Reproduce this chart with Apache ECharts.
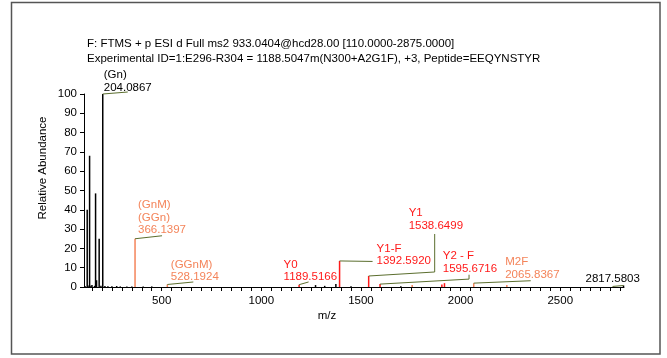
<!DOCTYPE html>
<html><head><meta charset="utf-8">
<script src="https://cdn.jsdelivr.net/npm/echarts@6/dist/echarts.min.js"></script>
<style>html,body{margin:0;padding:0;background:#fff}#c{width:667px;height:358px}</style>
</head><body><div id="c"></div>
<script>
// ---- data ----
const titleLines = [
  "F: FTMS + p ESI d Full ms2 933.0404@hcd28.00 [110.0000-2875.0000]",
  "Experimental ID=1:E296-R304 = 1188.5047m(N300+A2G1F), +3, Peptide=EEQYNSTYR"
];
const xTickLabels = [500, 1000, 1500, 2000, 2500];
const yTickLabels = [0, 10, 20, 30, 40, 50, 60, 70, 80, 90, 100];

// black (unassigned) peaks
const blackMz  = [115, 126.06, 130, 138.05, 145, 150, 163, 168.07, 173, 186.08, 195, 204.0867, 215, 230, 250, 274, 292, 325, 350, 407, 450, 1272, 1318, 1374, 1450, 1700, 2817.5803];
const blackInt = [0.5, 40, 0.8, 68, 0.7, 1.0, 0.6, 48.5, 3.5, 25, 0.6, 100, 0.5, 0.4, 0.4, 0.5, 0.3, 0.3, 0.3, 0.3, 0.3, 1.0, 0.6, 1.5, 0.4, 0.4, 0.8];
// orange (glycan oxonium / M-type) peaks
const orangeMz  = [366.1397, 528.1924, 1757, 2065.8367, 2232];
const orangeInt = [25, 1.3, 1.0, 2.0, 1.0];
// red (Y-type) peaks
const redMz  = [1189.5166, 1392.592, 1538.6499, 1595.6716, 1906, 1919];
const redInt = [1.2, 13.5, 5.7, 1.5, 1.3, 2.0];

// annotations
const annMz    = [204.0867, 366.1397, 528.1924, 1189.5166, 1392.592, 1538.6499, 1595.6716, 2065.8367, 2817.5803];
const annInt   = [100, 25, 1.3, 1.2, 13.5, 5.7, 1.5, 2.0, 0.8];
const annText  = [
  ["(Gn)", "204.0867"],
  ["(GnM)", "(GGn)", "366.1397"],
  ["(GGnM)", "528.1924"],
  ["Y0", "1189.5166"],
  ["Y1-F", "1392.5920"],
  ["Y1", "1538.6499"],
  ["Y2 - F", "1595.6716"],
  ["M2F", "2065.8367"],
  ["2817.5803"]
];
const annClass = ["k", "o", "o", "r", "r", "r", "r", "o", "k"];

// ---- layout / style (pixels relative to each peak top) ----
const labelLayout = [
  {tx: 1,    ty: -6.5,  leader: [[25, -2]]},
  {tx: 3,    ty: -8.5,  leader: [[27, -3]]},
  {tx: 3.5,  ty: -7.5,  leader: [[26, -2.5]]},
  {tx: -15.5,ty: -7.7,  leader: [[9.5, -2.7]]},
  {tx: 37,   ty: 0,     leader: [[33, 0.5]]},
  {tx: 40,   ty: -50.6, leader: [[66, -4], [66, -42]]},
  {tx: 62.7, ty: -15.4, leader: [[89, -5], [89, -9.4]]},
  {tx: 31.5, ty: -8.4,  leader: [[57, -2.4]]},
  {tx: -38,  ty: -7,    leader: [[-11, 1]]}
];
const colors = {k: "#000000", o: "#F4845A", r: "#FF1A1A"};
const leaderColor = "#5B6E2E";
const FONT = '"Liberation Sans", Arial, sans-serif';
const LH = 12.6;

const chart = echarts.init(document.getElementById('c'), null, {renderer: 'canvas'});

function stickSeries(mz, inten, color) {
  return {
    type: 'custom',
    coordinateSystem: 'cartesian2d',
    data: mz.map((m, i) => [m, inten[i]]),
    silent: true,
    renderItem: function (params, api) {
      const p0 = api.coord([api.value(0), 0]);
      const p1 = api.coord([api.value(0), api.value(1)]);
      return {type: 'line', shape: {x1: p0[0], y1: p0[1], x2: p1[0], y2: p1[1]},
              style: {stroke: color, lineWidth: 1.5}};
    }
  };
}

const annSeries = {
  type: 'custom',
  coordinateSystem: 'cartesian2d',
  data: annMz.map((m, i) => [m, annInt[i], i]),
  silent: true,
  z: 5,
  renderItem: function (params, api) {
    const i = api.value(2);
    const p = api.coord([api.value(0), api.value(1)]);
    const lay = labelLayout[i];
    const children = [];
    const pts = [[p[0], p[1]]].concat(lay.leader.map(d => [p[0] + d[0], p[1] + d[1]]));
    children.push({type: 'polyline', shape: {points: pts}, style: {stroke: leaderColor, lineWidth: 1, fill: null}});
    const lines = annText[i];
    const n = lines.length;
    lines.forEach((t, j) => {
      children.push({type: 'text', style: {
        text: t, x: p[0] + lay.tx, y: p[1] + lay.ty - (n - 1 - j) * LH,
        fill: colors[annClass[i]], font: '11.5px ' + FONT,
        textAlign: 'left', textVerticalAlign: 'middle'}});
    });
    return {type: 'group', children: children};
  }
};

const tickVals = [];
for (let v = 150; v <= 2800; v += 50) tickVals.push(v);

chart.setOption({
  animation: false,
  backgroundColor: '#ffffff',
  grid: {left: 84, right: 43, top: 94, bottom: 71, containLabel: false},
  xAxis: {
    type: 'value', min: 110, max: 2820,
    axisLine: {show: true, onZero: false, lineStyle: {color: '#000', width: 1}},
    axisTick: {show: true, customValues: tickVals, length: 4, lineStyle: {color: '#000'}},
    axisLabel: {customValues: xTickLabels, color: '#000', fontSize: 11.5, fontFamily: FONT, margin: 8,
      formatter: v => String(v)},
    splitLine: {show: false}
  },
  yAxis: {
    type: 'value', min: 0, max: 100, interval: 10,
    axisLine: {show: true, lineStyle: {color: '#000', width: 1}},
    axisTick: {show: true, length: 4, lineStyle: {color: '#000'}},
    axisLabel: {color: '#000', fontSize: 11.5, fontFamily: FONT, margin: 7,
      formatter: v => yTickLabels.includes(v) ? String(v) : ''},
    splitLine: {show: false}
  },
  graphic: [
    {type: 'rect', shape: {x: 11.5, y: 2.5, width: 648.5, height: 351.5},
     style: {fill: null, stroke: '#555', lineWidth: 1.5}, silent: true},
    {type: 'text', style: {text: titleLines[0], x: 87, y: 44, font: '11.5px ' + FONT, fill: '#000', textVerticalAlign: 'middle'}},
    {type: 'text', style: {text: titleLines[1], x: 87, y: 58.5, font: '11.5px ' + FONT, fill: '#000', textVerticalAlign: 'middle'}},
    {type: 'text', rotation: Math.PI / 2, x: 43, y: 168,
     style: {text: 'Relative Abundance', x: 0, y: 0, font: '11.5px ' + FONT, fill: '#000', textAlign: 'center', textVerticalAlign: 'middle'}},
    {type: 'text', style: {text: 'm/z', x: 327, y: 316, font: '11.5px ' + FONT, fill: '#000', textAlign: 'center', textVerticalAlign: 'middle'}}
  ],
  series: [
    stickSeries(blackMz, blackInt, colors.k),
    stickSeries(orangeMz, orangeInt, colors.o),
    stickSeries(redMz, redInt, colors.r),
    annSeries
  ]
});
</script></body></html>
